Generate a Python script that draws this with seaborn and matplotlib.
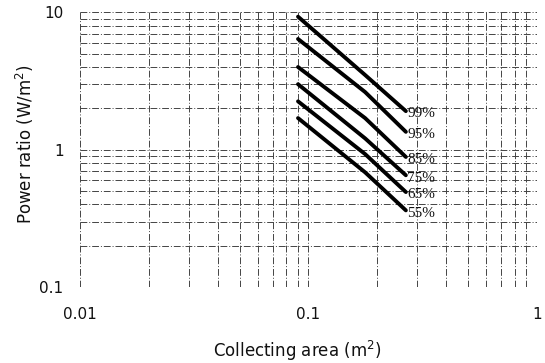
import numpy as np
import pandas as pd
import seaborn as sns
import matplotlib
matplotlib.use('Agg')
from matplotlib import pyplot as plt
from matplotlib.ticker import LogLocator, FixedLocator, FixedFormatter, NullFormatter

# collecting area (m^2) sampled along each curve
area = [0.09, 0.177, 0.267]

# power ratio (W/m^2) for each percentage curve
p99 = [9.3, 3.5, 1.91]
p95 = [6.4, 2.63, 1.35]
p85 = [4.0, 1.70, 0.886]
p75 = [3.0, 1.21, 0.652]
p65 = [2.25, 0.93, 0.492]
p55 = [1.7, 0.685, 0.362]

curve_labels = ['99%', '95%', '85%', '75%', '65%', '55%']
curves = [p99, p95, p85, p75, p65, p55]

x_ticks = [0.01, 0.1, 1]
x_tick_labels = ['0.01', '0.1', '1']
y_ticks = [0.1, 1, 10]
y_tick_labels = ['0.1', '1', '10']

rows = []
for label, values in zip(curve_labels, curves):
    for a, v in zip(area, values):
        rows.append({'area': a, 'power': v, 'curve': label})
df = pd.DataFrame(rows)

sns.set_style('white')
plt.rcParams['font.family'] = ['DejaVu Sans']

fig = plt.figure(figsize=(5.45, 3.63), dpi=100)
ax = fig.add_axes([0.147, 0.209, 0.838, 0.757])

sns.lineplot(data=df, x='area', y='power', hue='curve', hue_order=curve_labels,
             palette=['black'] * len(curve_labels), linewidth=2.8,
             legend=False, ax=ax)

ax.set_xscale('log')
ax.set_yscale('log')
ax.set_xlim(0.01, 1)
ax.set_ylim(0.1, 10)

# log grid, dash-dot like the scanned paper
ax.xaxis.set_major_locator(FixedLocator(x_ticks))
ax.xaxis.set_major_formatter(FixedFormatter(x_tick_labels))
ax.yaxis.set_major_locator(FixedLocator(y_ticks))
ax.yaxis.set_major_formatter(FixedFormatter(y_tick_labels))
ax.xaxis.set_minor_locator(LogLocator(base=10, subs=np.arange(2, 10)))
ax.yaxis.set_minor_locator(LogLocator(base=10, subs=np.arange(2, 10)))
ax.xaxis.set_minor_formatter(NullFormatter())
ax.yaxis.set_minor_formatter(NullFormatter())
ax.grid(which='both', color='#444444', linewidth=0.7, linestyle=(0, (7, 2, 1, 2)))
ax.set_axisbelow(True)
ax.tick_params(which='both', length=0, labelsize=11, colors='#111111')
ax.tick_params(axis='x', pad=14)
ax.tick_params(axis='y', pad=12)
for s in ax.spines.values():
    s.set_visible(False)

for label, values in zip(curve_labels, curves):
    ax.annotate(label, xy=(area[-1], values[-1]), xytext=(1, -2),
                textcoords='offset points', ha='left', va='center',
                fontsize=11, family='Liberation Serif', color='#111111')

ax.set_xlabel('Collecting area (m$^2$)', fontsize=12, color='#111111')
ax.set_ylabel('Power ratio (W/m$^2$)', fontsize=12, color='#111111')
ax.xaxis.set_label_coords(0.475, -0.19)
ax.yaxis.set_label_coords(-0.097, 0.52)

plt.savefig('out.png', dpi=100)
